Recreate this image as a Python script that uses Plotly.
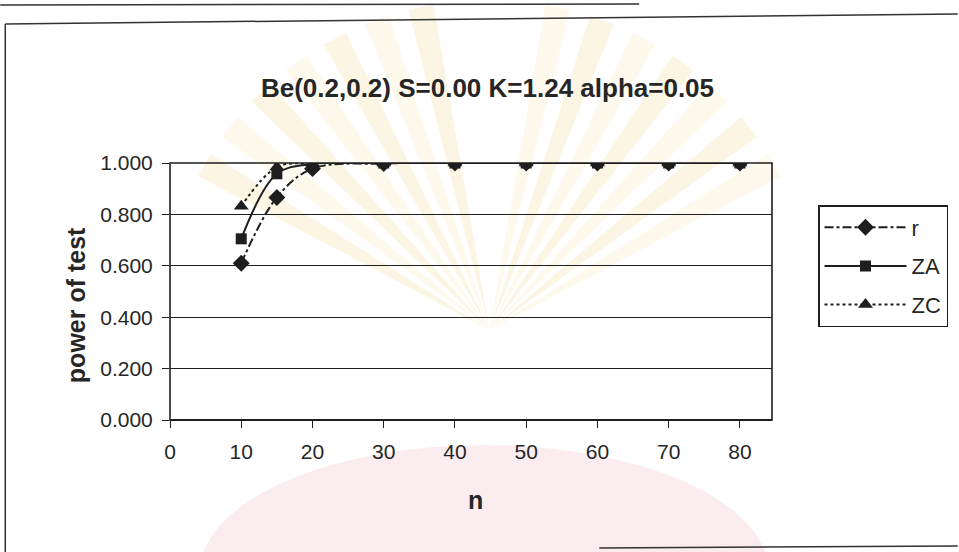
import math
import plotly.graph_objects as go

# Sample sizes and power of each test, Be(0.2,0.2), alpha = 0.05
n = [10, 15, 20, 30, 40, 50, 60, 70, 80]
power_r = [0.610, 0.866, 0.978, 0.998, 1.000, 1.000, 1.000, 1.000, 1.000]
power_za = [0.705, 0.958, 0.996, 1.000, 1.000, 1.000, 1.000, 1.000, 1.000]
power_zc = [0.832, 0.984, 0.999, 1.000, 1.000, 1.000, 1.000, 1.000, 1.000]

y_ticks = [0.0, 0.2, 0.4, 0.6, 0.8, 1.0]
x_ticks = [0, 10, 20, 30, 40, 50, 60, 70, 80]

FONT = "Liberation Sans, Arial, sans-serif"
INK = "#1e1e1e"
W, H = 959, 552
L, R, T, B = 170, 773, 163, 420  # plot area edges in pixels


def px(x):
    return (x - L) / (R - L)


def py(y):
    return (B - y) / (B - T)


fig = go.Figure()

series = [
    ("r", power_r, "dashdot", "diamond", 13),
    ("ZA", power_za, "solid", "square", 11),
    ("ZC", power_zc, "dot", "triangle-up", 13),
]
for name, vals, dash, sym, size in series:
    fig.add_trace(go.Scatter(
        x=n, y=vals, name=name, legendgroup=name, mode="lines+markers",
        line=dict(color=INK, width=2, dash=dash, shape="spline"),
        marker=dict(symbol=sym, size=size, color=INK),
    ))

shapes = []

# faint seal behind the page: a fan of pale rays and a rosy base
cx, cy, rad = 490, 330, 330
for k, ang in enumerate(range(30, 152, 8)):
    if 82 <= ang <= 98:
        continue
    a0, a1 = math.radians(ang - 2.2), math.radians(ang + 2.2)
    pts = [(cx, cy),
           (cx + rad * math.cos(a0), cy - rad * math.sin(a0)),
           (cx + rad * math.cos(a1), cy - rad * math.sin(a1))]
    path = "M " + " L ".join(f"{px(x):.4f},{py(y):.4f}" for x, y in pts) + " Z"
    shapes.append(dict(type="path", xref="paper", yref="paper", path=path,
                       fillcolor="#f3cf78" if k % 2 else "#f7e0a2",
                       line=dict(width=0), opacity=0.2, layer="below"))
shapes.append(dict(type="circle", xref="paper", yref="paper",
                   x0=px(200), x1=px(770), y0=py(445), y1=py(700),
                   fillcolor="#f3c3ca", line=dict(width=0), opacity=0.3,
                   layer="below"))

# frame lines around the chart object
frame = [
    (0, 5, 640, 4),        # bottom edge of the box above
    (5, 24, 959, 14),      # top edge
    (5, 24, 5, 552),       # left edge
    (600, 548, 959, 546),  # bottom edge
]
for x0, y0, x1, y1 in frame:
    shapes.append(dict(type="line", xref="paper", yref="paper",
                       x0=px(x0), y0=py(y0), x1=px(x1), y1=py(y1),
                       line=dict(color="#333333", width=1.5)))
# plot-area border
shapes.append(dict(type="rect", xref="paper", yref="paper", x0=0, y0=0, x1=1, y1=1,
                   line=dict(color=INK, width=1.6), layer="above"))
shapes.append(dict(type="line", xref="paper", yref="paper", x0=0, y0=0, x1=1, y1=0,
                   line=dict(color=INK, width=2.2), layer="above"))

annotations = [
    dict(text="<b>power of test</b>", xref="paper", yref="paper",
         x=px(76), y=py(305), textangle=-90, showarrow=False,
         xanchor="center", yanchor="middle", font=dict(size=25)),
    dict(text="<b>n</b>", xref="paper", yref="paper",
         x=px(476), y=py(500), showarrow=False,
         xanchor="center", yanchor="middle", font=dict(size=25)),
]

fig.update_layout(
    width=W, height=H,
    margin=dict(l=L, r=W - R, t=T, b=H - B, pad=0),
    paper_bgcolor="white", plot_bgcolor="rgba(0,0,0,0)",
    font=dict(family=FONT, color="#262626", size=21),
    title=dict(text="<b>Be(0.2,0.2) S=0.00 K=1.24 alpha=0.05</b>",
               x=px(488), xref="paper", xanchor="center",
               y=1 - 88 / H, yanchor="middle",
               font=dict(size=26, family=FONT)),
    xaxis=dict(range=[0, 84.5], tickvals=x_ticks, ticks="outside", ticklen=7,
               tickcolor=INK, showgrid=False, zeroline=False,
               showline=False, tickfont=dict(size=21), ticklabelstandoff=6),
    yaxis=dict(range=[0, 1], tickvals=y_ticks, tickformat=".3f", ticks="outside",
               ticklen=7, tickcolor=INK, showgrid=True,
               gridcolor=INK, gridwidth=1.2, zeroline=False, showline=False,
               tickfont=dict(size=21), ticklabelstandoff=5),
    legend=dict(x=px(818), y=py(205), xanchor="left", yanchor="top",
                bordercolor=INK, borderwidth=1.5, bgcolor="white",
                font=dict(size=22), tracegroupgap=7, itemwidth=82),
    shapes=shapes,
    annotations=annotations,
    showlegend=True,
)

fig.write_html("out.html")
